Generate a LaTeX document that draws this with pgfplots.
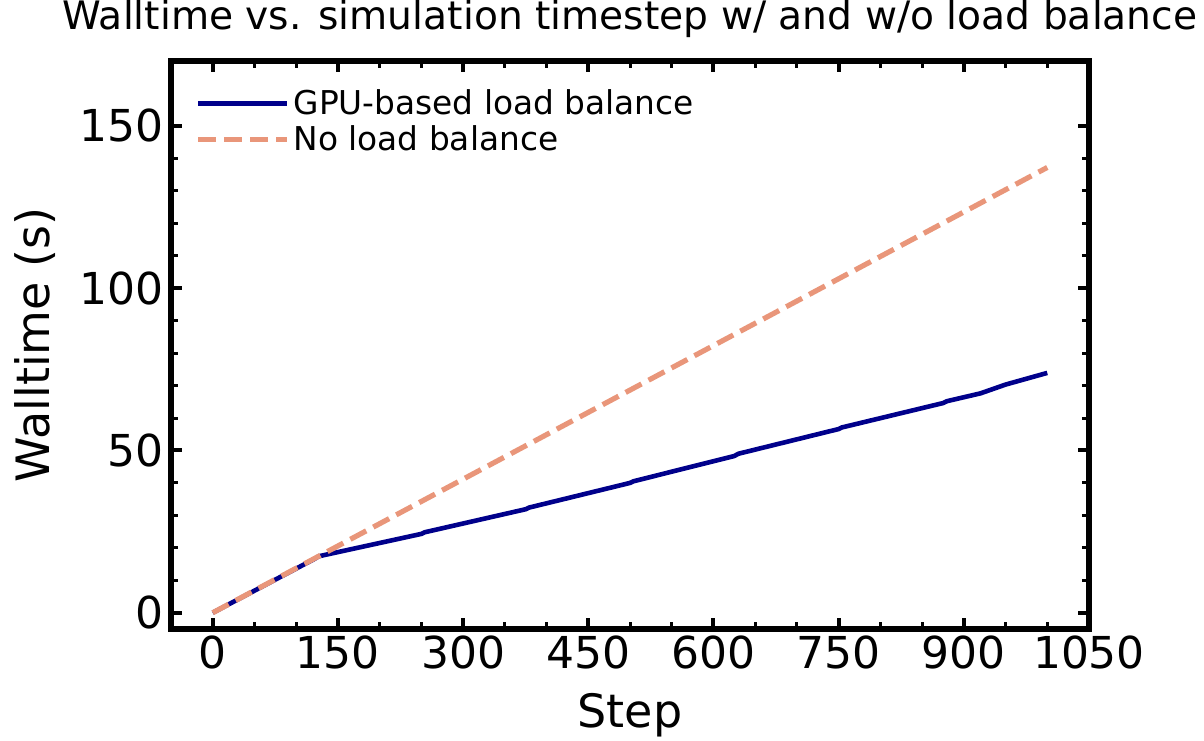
\documentclass[border=0pt]{standalone}
\usepackage{fontspec}
\setmainfont{DejaVu Sans}
\usepackage{pgfplots}
\pgfplotsset{compat=1.18}
\definecolor{gpublue}{RGB}{0,0,139}
\definecolor{nolb}{RGB}{233,150,122}
\begin{document}
\begin{tikzpicture}
\begin{axis}[name=ax, scale only axis, width=459pt, height=284pt,
  xmin=-50, xmax=1050, ymin=-5, ymax=170,
  xtick={0,150,...,1050}, ytick={0,50,100,150},
  minor x tick num=2, minor y tick num=4,
  tick align=inside,
  major tick length=5.5pt, minor tick length=3.5pt,
  tick style={line width=2pt, black},
  minor tick style={line width=1.5pt},
  axis line style={line width=3pt},
  ticklabel style={font=\fontsize{22}{26}\selectfont},
  /pgf/number format/assume math mode=true,
  /pgf/number format/set thousands separator={},
  xlabel={Step}, ylabel={Walltime (s)},
  xlabel style={font=\fontsize{23}{27}\selectfont, at={(axis description cs:0.5,-0.1743)}, anchor=base},
  ylabel style={font=\fontsize{23}{27}\selectfont, at={(axis description cs:-0.1318,0.5)}, anchor=base},
  title={Walltime vs. simulation timestep w/ and w/o load balance},
  title style={font=\fontsize{19.6}{23}\selectfont, at={(axis description cs:0.5,1.034)}, anchor=base, yshift=0pt},
  legend cell align=left,
  legend style={draw=none, fill=none, at={(axis description cs:0,1)}, anchor=north west,
    xshift=9pt, yshift=-10pt, font=\fontsize{16.4}{19}\selectfont, row sep=0pt},
  legend image code/.code={\draw[#1] (0pt,0pt) -- (35pt,0pt); \path (0pt,0pt) -- (44.5pt,0pt);},
]
\addplot[gpublue, line width=2.3pt] coordinates {
(0,0) (122,16.6) (127,17.4) (250,24.3) (254,24.8) (375,31.9) (379,32.4)
(500,40.0) (504,40.5) (625,48.3) (630,49.0) (750,56.6) (754,57.1)
(875,64.6) (880,65.2) (920,67.6) (950,70.3) (1000,73.9)};
\addlegendentry{GPU-based load balance}
\addplot[nolb, line width=2.6pt, dash pattern=on 9pt off 4pt] coordinates {(0,0) (1000,137.2)};
\addlegendentry{No load balance}
\end{axis}
\pgfresetboundingbox
\path ([shift={(-85.5pt,-56pt)}]ax.south west) rectangle ([shift={(57.5pt,30.5pt)}]ax.north east);
\end{tikzpicture}
\end{document}
